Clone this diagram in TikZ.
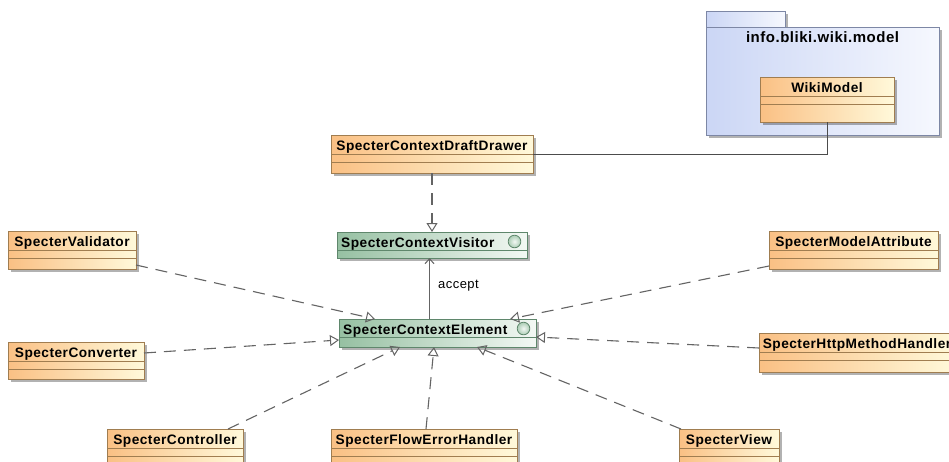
\documentclass[tikz,border=0pt]{standalone}
\usepackage{fontspec}
\setmainfont{Liberation Sans}
\newfontfamily\umlfont[LetterSpace=3.5]{Liberation Sans}
\usetikzlibrary{arrows.meta,shadows}

\definecolor{clsLeft}{RGB}{250,192,132}
\definecolor{clsRight}{RGB}{255,249,218}
\definecolor{clsLine}{RGB}{160,125,80}
\definecolor{ifLeft}{RGB}{150,192,162}
\definecolor{ifRight}{RGB}{243,248,244}
\definecolor{ifLine}{RGB}{95,135,108}
\definecolor{pkgLeft}{RGB}{203,214,245}
\definecolor{pkgRight}{RGB}{246,248,254}
\definecolor{pkgLine}{RGB}{125,135,165}
\definecolor{wire}{RGB}{100,100,100}

\tikzset{
  boxbase/.style={draw, line width=0.9pt, inner sep=0pt, outer sep=0pt, anchor=north west,
    drop shadow={shadow xshift=2.5pt, shadow yshift=-2.5pt, fill=black, opacity=0.3}},
  classbox/.style={boxbase, draw=clsLine, left color=clsLeft, right color=clsRight},
  ifacebox/.style={boxbase, draw=ifLine, left color=ifLeft, right color=ifRight},
  pkgbox/.style={boxbase, draw=pkgLine, left color=pkgLeft, right color=pkgRight},
  sepline/.style={line width=0.8pt},
  nametext/.style={font=\umlfont\bfseries\fontsize{13.7}{16}\selectfont, inner sep=0pt},
  labeltext/.style={font=\umlfont\fontsize{13}{15}\selectfont, inner sep=0pt},
  realizes/.style={draw=wire, line width=1.1pt, dash pattern=on 12pt off 8pt,
    -{Triangle[open, length=9pt, width=11pt, line width=1pt]}},
  usage/.style={draw=wire, line width=1.1pt, -{Straight Barb[length=5pt, width=9pt, line width=1pt]}},
  assoc/.style={draw=black!70, line width=0.9pt}
}

% class box: name, x1, y1, x2, y2, title
\newcommand\umlclass[6]{%
  \node[classbox, minimum width={(#4-#2)*1pt}, minimum height={(#5-#3)*1pt}] (#1) at (#2,#3) {};
  \draw[sepline, draw=clsLine] (#2,#3+19) -- (#4,#3+19) (#2,#3+27) -- (#4,#3+27);
  \node[nametext, anchor=base] (#1-name) at ({(#2+#4)/2},#3+15) {#6};
}
% interface box with its lollipop circle
\newcommand\umliface[6]{%
  \node[ifacebox, minimum width={(#4-#2)*1pt}, minimum height={(#5-#3)*1pt}] (#1) at (#2,#3) {};
  \draw[sepline, draw=ifLine] (#2,#3+18.5) -- (#4,#3+18.5);
  \node[nametext, anchor=base west] (#1-name) at (#2+4,#3+15) {#6};
  \draw[ifLine, line width=0.8pt, inner color=ifRight, outer color=ifLeft!80] (#4-12.5,#3+9.5) circle (6.3);
}

\begin{document}
\begin{tikzpicture}[x=1pt, y=-1pt]
  \path[fill=white, use as bounding box] (0,0) rectangle (949,461);

  % package
  \node[pkgbox, minimum width=79pt, minimum height=16pt] (pkgtab) at (706,11) {};
  \node[pkgbox, minimum width=233pt, minimum height=108pt] (pkg) at (706,27) {};
  \node[nametext, font=\umlfont\bfseries\fontsize{15}{17}\selectfont, anchor=base] (pkg-name) at (822.5,42) {info.bliki.wiki.model};

  % classes and interfaces
  \umlclass{wiki}{760}{77}{894}{122}{WikiModel}
  \umlclass{draft}{331}{135}{533}{173}{SpecterContextDraftDrawer}
  \umliface{visitor}{337}{232}{527}{258}{SpecterContextVisitor}
  \umliface{elem}{339}{319}{536}{347}{SpecterContextElement}
  \umlclass{valid}{8}{231}{136}{269}{SpecterValidator}
  \umlclass{conv}{8}{342}{144}{379}{SpecterConverter}
  \umlclass{ctrl}{107}{429}{243}{466}{SpecterController}
  \umlclass{flow}{331}{429}{517}{466}{SpecterFlowErrorHandler}
  \umlclass{view}{679}{429}{779}{466}{SpecterView}
  \umlclass{mattr}{769}{231}{938}{269}{SpecterModelAttribute}
  \umlclass{http}{759}{333}{955}{372}{SpecterHttpMethodHandler}

  % connectors
  \draw[assoc] (wiki.south) |- (draft.east);
  \draw[realizes] (draft.south) -- (visitor.north);
  \coordinate (acc) at ([xshift=-8pt]elem.north);
  \draw[usage] (acc) -- (acc |- visitor.south);
  \node[labeltext, anchor=base west] (acc-label) at (438,288) {accept};

  \draw[realizes] ([yshift=-15pt]valid.east) -- ([xshift=36pt]elem.north west);
  \draw[realizes] ([yshift=7.5pt]conv.east) -- ([yshift=-7pt]elem.west);
  \draw[realizes] ([xshift=-15pt]ctrl.north east) -- ([xshift=61pt]elem.south west);
  \draw[realizes] ([xshift=2pt]flow.north) -- ([xshift=-3.5pt]elem.south);
  \draw[realizes] ([xshift=2pt]view.north west) -- ([xshift=-59pt]elem.south east);
  \draw[realizes] ([yshift=4.5pt]http.west) -- ([yshift=-4pt]elem.east);
  \draw[realizes] ([yshift=-16pt]mattr.west) -- ([xshift=-26pt]elem.north east);
\end{tikzpicture}
\end{document}
